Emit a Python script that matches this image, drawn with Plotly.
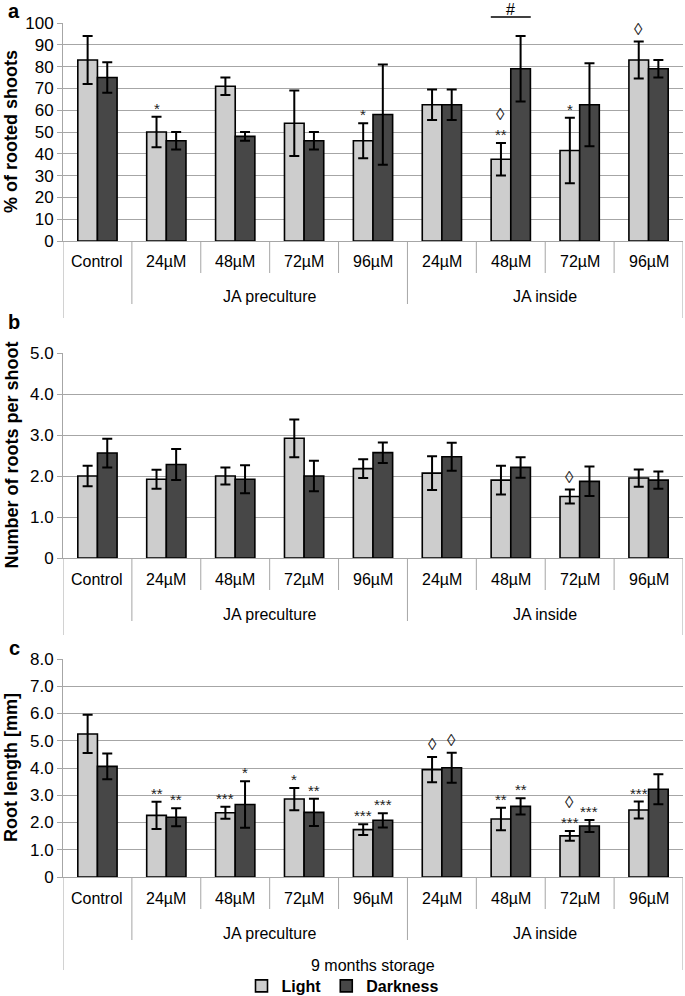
import plotly.graph_objects as go

# categories
categories = ["Control", "24µM", "48µM", "72µM", "96µM", "24µM", "48µM", "72µM", "96µM"]
group_labels = ["JA preculture", "JA inside"]
group_first = [1, 5]
group_last = [4, 8]
series_names = ["Light", "Darkness"]

# panel a: % of rooted shoots
rooted_light = [83, 50, 71, 54, 46, 62.5, 37.5, 41.5, 83]
rooted_light_err = [11, 7, 4, 15, 8, 7, 7.5, 15, 8.5]
rooted_dark = [75, 46, 48, 46, 58, 62.5, 79, 62.5, 79]
rooted_dark_err = [7, 4, 2, 4, 23, 7, 15, 19, 4]
rooted_light_sig = ["", "*", "", "", "*", "", "**", "*", ""]
rooted_dark_sig = ["", "", "", "", "", "", "", "", ""]
rooted_light_dia = [0, 0, 0, 0, 0, 0, 1, 0, 1]
rooted_dark_dia = [0, 0, 0, 0, 0, 0, 0, 0, 0]

# panel b: number of roots per shoot
roots_light = [2.0, 1.92, 2.0, 2.92, 2.18, 2.07, 1.90, 1.50, 1.95]
roots_light_err = [0.25, 0.23, 0.21, 0.46, 0.23, 0.41, 0.35, 0.17, 0.21]
roots_dark = [2.56, 2.28, 1.92, 2.0, 2.57, 2.47, 2.21, 1.87, 1.90]
roots_dark_err = [0.35, 0.38, 0.34, 0.37, 0.25, 0.34, 0.25, 0.36, 0.21]
roots_light_sig = ["", "", "", "", "", "", "", "", ""]
roots_dark_sig = ["", "", "", "", "", "", "", "", ""]
roots_light_dia = [0, 0, 0, 0, 0, 0, 0, 1, 0]
roots_dark_dia = [0, 0, 0, 0, 0, 0, 0, 0, 0]

# panel c: root length [mm]
length_light = [5.25, 2.26, 2.36, 2.86, 1.74, 3.94, 2.13, 1.51, 2.46]
length_light_err = [0.7, 0.5, 0.22, 0.41, 0.2, 0.46, 0.41, 0.18, 0.31]
length_dark = [4.06, 2.19, 2.66, 2.37, 2.08, 4.01, 2.59, 1.87, 3.22]
length_dark_err = [0.47, 0.33, 0.85, 0.5, 0.26, 0.55, 0.3, 0.22, 0.55]
length_light_sig = ["", "**", "***", "*", "***", "", "**", "***", "***"]
length_dark_sig = ["", "**", "*", "**", "***", "", "**", "***", ""]
length_light_dia = [0, 0, 0, 0, 0, 1, 0, 1, 0]
length_dark_dia = [0, 0, 0, 0, 0, 1, 0, 0, 0]

W, H = 685, 996
FONT = "Liberation Sans, Arial, sans-serif"
LIGHT = "#cdcdcd"
DARK = "#474747"
GRID = "#a6a6a6"
BARGAP = 0.43


def py(p):
    return 1 - p / H


def px(p):
    return p / W


xpos = list(range(len(categories)))
half = (1 - BARGAP) / 4  # centre offset of each bar in the pair

panels = [
    dict(light=rooted_light, le=rooted_light_err, dark=rooted_dark, de=rooted_dark_err,
         ls=rooted_light_sig, ds=rooted_dark_sig, ld=rooted_light_dia, dd=rooted_dark_dia,
         top=23, bot=241, rng=[0, 100], ticks=[0, 10, 20, 30, 40, 50, 60, 70, 80, 90, 100],
         ticktext=["0", "10", "20", "30", "40", "50", "60", "70", "80", "90", "100"],
         title="% of rooted shoots", letter="a", letter_y=11),
    dict(light=roots_light, le=roots_light_err, dark=roots_dark, de=roots_dark_err,
         ls=roots_light_sig, ds=roots_dark_sig, ld=roots_light_dia, dd=roots_dark_dia,
         top=353, bot=558, rng=[0, 5], ticks=[0, 1, 2, 3, 4, 5],
         ticktext=["0", "1.0", "2.0", "3.0", "4.0", "5.0"],
         title="Number of roots per shoot", letter="b", letter_y=322),
    dict(light=length_light, le=length_light_err, dark=length_dark, de=length_dark_err,
         ls=length_light_sig, ds=length_dark_sig, ld=length_light_dia, dd=length_dark_dia,
         top=659, bot=877, rng=[0, 8], ticks=[0, 1, 2, 3, 4, 5, 6, 7, 8],
         ticktext=["0", "1.0", "2.0", "3.0", "4.0", "5.0", "6.0", "7.0", "8.0"],
         title="Root length [mm]", letter="c", letter_y=648),
]

fig = go.Figure()
annotations = []
shapes = []
layout = {}

for k, p in enumerate(panels):
    n = "" if k == 0 else str(k + 1)
    xa, ya = "x" + n, "y" + n
    for vals, errs, color, name in [(p["light"], p["le"], LIGHT, series_names[0]),
                                    (p["dark"], p["de"], DARK, series_names[1])]:
        fig.add_trace(go.Bar(
            x=xpos, y=vals, name=name, xaxis=xa, yaxis=ya,
            marker=dict(color=color, line=dict(color="black", width=1.6)),
            error_y=dict(type="data", array=errs, color="black", thickness=2, width=5),
            showlegend=(k == 2),
        ))
    layout["xaxis" + n] = dict(domain=[px(63), px(683)], range=[-0.5, 8.5], anchor=ya,
                               showticklabels=False, showgrid=False, zeroline=False,
                               showline=True, linecolor=GRID, linewidth=1, ticks="")
    layout["yaxis" + n] = dict(domain=[py(p["bot"]), py(p["top"])], range=p["rng"], anchor=xa,
                               tickvals=p["ticks"], ticktext=p["ticktext"],
                               showgrid=True, gridcolor=GRID, gridwidth=1, zeroline=False,
                               showline=True, linecolor=GRID, linewidth=1,
                               ticks="outside", ticklen=5, tickcolor=GRID,
                               tickfont=dict(family=FONT, size=17, color="black"))

    # significance marks
    for vals, errs, sig, dia, off in [(p["light"], p["le"], p["ls"], p["ld"], -half),
                                      (p["dark"], p["de"], p["ds"], p["dd"], half)]:
        for i in xpos:
            ytop = vals[i] + errs[i]
            shift = 1
            if sig[i]:
                annotations.append(dict(x=i + off, y=ytop, xref=xa, yref=ya, text=sig[i],
                                        showarrow=False, xanchor="center", yanchor="bottom", yshift=-2,
                                        font=dict(family=FONT, size=15, color="#222222")))
                shift = 17
            if dia[i]:
                annotations.append(dict(x=i + off, y=ytop, xref=xa, yref=ya, text="◊",
                                        showarrow=False, xanchor="center", yanchor="bottom", yshift=shift,
                                        font=dict(family=FONT, size=17, color="#222222")))

    # category labels
    lab_y = p["bot"] + 21
    for i, c in enumerate(categories):
        annotations.append(dict(x=i, y=py(lab_y), xref=xa, yref="paper", text=c,
                                showarrow=False, xanchor="center", yanchor="middle",
                                font=dict(family=FONT, size=16, color="black")))
    for g, a, b in zip(group_labels, group_first, group_last):
        annotations.append(dict(x=(a + b) / 2, y=py(p["bot"] + 56), xref=xa, yref="paper", text=g,
                                showarrow=False, xanchor="center", yanchor="middle",
                                font=dict(family=FONT, size=16, color="black")))

    # divider lines of the category axis
    outer_end = p["bot"] + (93 if k == 2 else 77)
    group_end = p["bot"] + 63
    for i in range(len(categories) + 1):
        b = i - 0.5
        if i == 0 or i == len(categories):
            end = outer_end
        elif i in group_first:
            end = group_end
        else:
            end = p["bot"] + 32
        shapes.append(dict(type="line", xref=xa, yref="paper", x0=b, x1=b,
                           y0=py(p["bot"]), y1=py(end), line=dict(color=GRID, width=1)))

    # y axis title and panel letter
    annotations.append(dict(x=px(11), y=py((p["top"] + p["bot"]) / 2), xref="paper", yref="paper",
                            text="<b>%s</b>" % p["title"], textangle=-90, showarrow=False,
                            xanchor="center", yanchor="middle",
                            font=dict(family=FONT, size=18, color="black")))
    annotations.append(dict(x=px(14), y=py(p["letter_y"]), xref="paper", yref="paper",
                            text="<b>%s</b>" % p["letter"], showarrow=False,
                            xanchor="center", yanchor="middle",
                            font=dict(family=FONT, size=20, color="black")))

# "#" bracket over 48µM JA inside
annotations.append(dict(x=6, y=py(9), xref="x", yref="paper", text="#", showarrow=False,
                        xanchor="center", yanchor="middle",
                        font=dict(family=FONT, size=16, color="black")))
shapes.append(dict(type="line", xref="x", yref="paper", x0=6 - 0.29, x1=6 + 0.29,
                   y0=py(17), y1=py(17), line=dict(color="black", width=1.5)))

annotations.append(dict(x=(0 + 8) / 2, y=py(965), xref="x3", yref="paper", text="9 months storage",
                        showarrow=False, xanchor="center", yanchor="middle",
                        font=dict(family=FONT, size=16, color="black")))

fig.update_layout(
    width=W, height=H,
    margin=dict(l=0, r=0, t=0, b=0, autoexpand=False),
    paper_bgcolor="white", plot_bgcolor="white",
    barmode="group", bargap=BARGAP, bargroupgap=0,
    annotations=annotations, shapes=shapes,
    legend=dict(orientation="h", x=0.5, xanchor="center", y=py(986), yanchor="middle",
                font=dict(family=FONT, size=16, color="black", weight="bold"),
                itemwidth=30, tracegroupgap=0),
    font=dict(family=FONT),
    **layout,
)

# pin the plot to the page corner so nothing around it shifts it
pin = ("var d=document.getElementById('{plot_id}');"
       "d.style.position='absolute';d.style.top='0px';d.style.left='0px';"
       "document.body.style.margin='0px';document.body.style.overflow='hidden';")
fig.write_html("out.html", config={"displayModeBar": False}, post_script=pin)
